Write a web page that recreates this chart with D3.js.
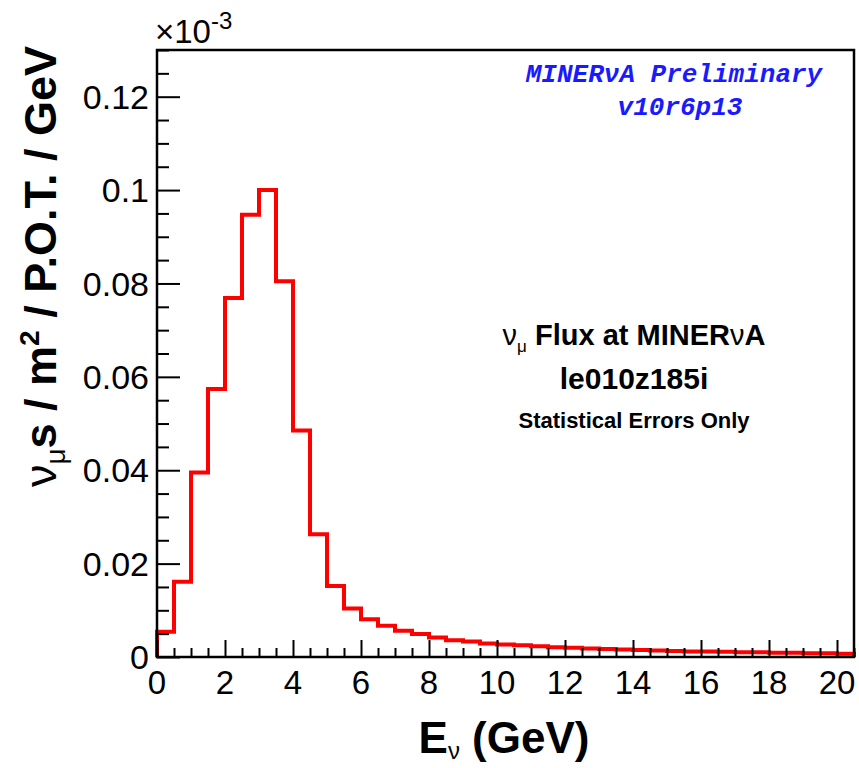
<!DOCTYPE html>
<html>
<head>
<meta charset="utf-8">
<script src="https://cdn.jsdelivr.net/npm/d3@7"></script>
<style>
  body { margin: 0; background: #fff; }
  svg { display: block; }
  text { font-family: "Liberation Sans", Arial, sans-serif; }
  text.mono { font-family: "Liberation Mono", "DejaVu Sans Mono", monospace; }
</style>
</head>
<body>
<svg id="chart" width="859" height="768"></svg>
<script>
// bin edges every 0.5 GeV from 0 to 20.5, flux in units of 1e-3
const binWidth = 0.5
const flux = [
  0.0054, 0.0161, 0.0395, 0.0574, 0.0769, 0.0947, 0.1000, 0.0805,
  0.0485, 0.0263, 0.0152, 0.0104, 0.0081, 0.0067, 0.0056, 0.0049,
  0.0042, 0.0036, 0.0033, 0.0029, 0.0027, 0.0025, 0.0023, 0.0021,
  0.0020, 0.0018, 0.0017, 0.0016, 0.0015, 0.0014, 0.0013, 0.0012,
  0.0012, 0.0011, 0.0010, 0.0010, 0.0009, 0.0009, 0.0008, 0.0008,
  0.0007
]
const xTicks = [0, 2, 4, 6, 8, 10, 12, 14, 16, 18, 20]
const yTicks = [0, 0.02, 0.04, 0.06, 0.08, 0.1, 0.12]
const yTickLabels = ['0', '0.02', '0.04', '0.06', '0.08', '0.1', '0.12']

const svg = d3.select('#chart')
const frame = { left: 157, right: 854, top: 50, bottom: 657 }

const x = d3.scaleLinear().domain([0, 20.5]).range([frame.left, frame.right])
const y = d3.scaleLinear().domain([0, 0.13]).range([frame.bottom, frame.top])

// histogram outline
const pts = [[0, 0]]
flux.forEach((v, i) => {
    pts.push([i * binWidth, v])
    pts.push([(i + 1) * binWidth, v])
})
pts.push([flux.length * binWidth, 0])

const line = d3.line().x(d => x(d[0])).y(d => y(d[1]))

svg.append('path')
    .attr('d', line(pts))
    .attr('fill', 'none')
    .attr('stroke', '#ff0000')
    .attr('stroke-width', 4)
    .attr('stroke-linejoin', 'miter')

// y axis ticks (inside the frame)
const yAxis = d3.axisRight(y)
    .tickValues(d3.range(0, 0.1301, 0.005))
    .tickSize(12)
    .tickFormat('')
svg.append('g')
    .attr('transform', `translate(${frame.left},0)`)
    .call(yAxis)
    .call(g => g.select('.domain').remove())
    .call(g => g.selectAll('.tick line')
        .attr('stroke', '#000')
        .attr('stroke-width', 2)
        .attr('x2', d => Math.abs(d / 0.02 - Math.round(d / 0.02)) < 1e-6 ? 23 : 12))

// x axis ticks (inside the frame)
const xAxis = d3.axisTop(x)
    .tickValues(d3.range(0, 20.51, 0.5))
    .tickSize(9)
    .tickFormat('')
svg.append('g')
    .attr('transform', `translate(0,${frame.bottom})`)
    .call(xAxis)
    .call(g => g.select('.domain').remove())
    .call(g => g.selectAll('.tick line')
        .attr('stroke', '#000')
        .attr('stroke-width', 2)
        .attr('y2', d => Math.abs(d / 2 - Math.round(d / 2)) < 1e-6 ? -17 : -9))

// frame
svg.append('rect')
    .attr('x', frame.left)
    .attr('y', frame.top)
    .attr('width', frame.right - frame.left)
    .attr('height', frame.bottom - frame.top)
    .attr('fill', 'none')
    .attr('stroke', '#000')
    .attr('stroke-width', 2.5)

// tick labels
svg.append('g').selectAll('text')
    .data(yTicks)
    .join('text')
    .attr('x', 149)
    .attr('y', d => y(d))
    .attr('dy', '0.36em')
    .attr('text-anchor', 'end')
    .attr('font-size', 34)
    .text((d, i) => yTickLabels[i])

svg.append('g').selectAll('text')
    .data(xTicks)
    .join('text')
    .attr('x', d => x(d))
    .attr('y', 694)
    .attr('text-anchor', 'middle')
    .attr('font-size', 33)
    .text(d => d)

// exponent
const expo = svg.append('text')
    .attr('x', 155)
    .attr('y', 43)
    .attr('font-size', 33)
expo.append('tspan').text('×10')
expo.append('tspan').attr('dy', -14).attr('font-size', 24).text('-3')

// axis titles
const yt = svg.append('text')
    .attr('transform', 'translate(56,46) rotate(-90)')
    .attr('text-anchor', 'end')
    .attr('font-size', 45)
    .attr('font-weight', 'bold')
yt.append('tspan').attr('font-weight', 'normal').text('ν')
yt.append('tspan').attr('dy', 9).attr('font-size', 28).attr('font-weight', 'normal').text('μ')
yt.append('tspan').attr('dy', -9).text('s / m')
yt.append('tspan').attr('dy', -17).attr('font-size', 28).text('2')
yt.append('tspan').attr('dy', 17).text(' / P.O.T. / GeV')

const xt = svg.append('text')
    .attr('x', 504)
    .attr('y', 753)
    .attr('text-anchor', 'middle')
    .attr('font-size', 44)
    .attr('font-weight', 'bold')
xt.append('tspan').text('E')
xt.append('tspan').attr('dy', 6).attr('font-size', 24).attr('font-weight', 'normal').text('ν')
xt.append('tspan').attr('dy', -6).text(' (GeV)')

// blue label
svg.append('text')
    .attr('class', 'mono')
    .attr('x', 674)
    .attr('y', 82)
    .attr('text-anchor', 'middle')
    .attr('font-size', 26)
    .attr('font-weight', 'bold')
    .attr('font-style', 'italic')
    .attr('fill', '#1a1aff')
    .text('MINERνA Preliminary')
svg.append('text')
    .attr('class', 'mono')
    .attr('x', 680)
    .attr('y', 115)
    .attr('text-anchor', 'middle')
    .attr('font-size', 26)
    .attr('font-weight', 'bold')
    .attr('font-style', 'italic')
    .attr('fill', '#1a1aff')
    .text('v10r6p13')

// info text
const t1 = svg.append('text')
    .attr('x', 634)
    .attr('y', 345)
    .attr('text-anchor', 'middle')
    .attr('font-size', 29)
    .attr('font-weight', 'bold')
t1.append('tspan').attr('font-weight', 'normal').text('ν')
t1.append('tspan').attr('dy', 7).attr('font-size', 17).attr('font-weight', 'normal').text('μ')
t1.append('tspan').attr('dy', -7).text(' Flux at MINER')
t1.append('tspan').attr('font-weight', 'normal').text('ν')
t1.append('tspan').text('A')

svg.append('text')
    .attr('x', 634)
    .attr('y', 389)
    .attr('text-anchor', 'middle')
    .attr('font-size', 30)
    .attr('font-weight', 'bold')
    .text('le010z185i')

svg.append('text')
    .attr('x', 634)
    .attr('y', 428)
    .attr('text-anchor', 'middle')
    .attr('font-size', 22)
    .attr('font-weight', 'bold')
    .text('Statistical Errors Only')
</script>
</body>
</html>
